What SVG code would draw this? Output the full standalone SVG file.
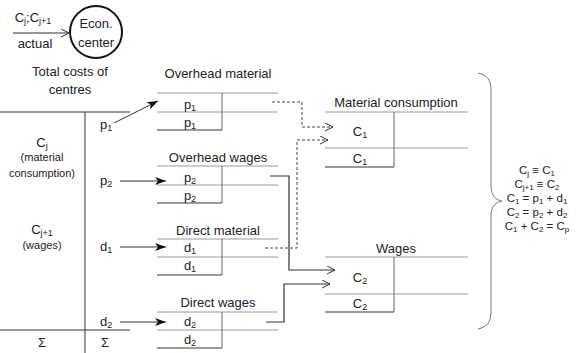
<svg xmlns="http://www.w3.org/2000/svg" width="583" height="353" viewBox="0 0 583 353">
<style>
text{font-family:"Liberation Sans",Arial,sans-serif;fill:#222;font-size:13px}
.sm{font-size:11px}
.eq{font-size:11.5px}
.c{text-anchor:middle}
.tl{stroke:#9a9a9a;stroke-width:1;fill:none}
.tb{stroke:#9a9a9a;stroke-width:2;fill:none}
.tv{stroke:#666;stroke-width:1;fill:none}
.k{stroke:#333;stroke-width:1;fill:none}
.dash{stroke:#444;stroke-width:1;fill:none;stroke-dasharray:3,2}
.sol{stroke:#333;stroke-width:1.2;fill:none}
</style>
<defs>
<marker id="open" markerWidth="10" markerHeight="10" refX="8" refY="4" orient="auto" markerUnits="userSpaceOnUse">
<path d="M0,0 L8,4 L0,8" fill="none" stroke="#333" stroke-width="1"/>
</marker>
<marker id="stealth" markerWidth="14" markerHeight="10" refX="11" refY="4" orient="auto" markerUnits="userSpaceOnUse">
<path d="M0,0 L11,4 L0,8 L3,4 z" fill="#111"/>
</marker>
</defs>

<g id="econ-center">
<circle cx="96" cy="32" r="26" fill="none" stroke="#111" stroke-width="2"/>
<text x="96" y="28" class="c">Econ.</text>
<text x="96" y="47" class="c">center</text>
</g>
<g id="input-label">
<text x="33" y="22" class="c">C<tspan font-size="9" dy="2">j</tspan><tspan dy="-2">;C</tspan><tspan font-size="9" dy="2">j+1</tspan></text>
<text x="35" y="48" class="c">actual</text>
</g>
<g id="total-costs">
<text x="70" y="76" class="c">Total costs of</text>
<text x="70" y="94" class="c">centres</text>
<path class="k" d="M0,112 H130 M85,112 V353 M0,330 H130"/>
<text x="42" y="147" class="c">C<tspan font-size="9" dy="2">j</tspan></text>
<text x="42" y="161" class="c sm">(material</text>
<text x="42" y="177" class="c sm">consumption)</text>
<text x="42" y="234" class="c">C<tspan font-size="9" dy="2">j+1</tspan></text>
<text x="42" y="249" class="c sm">(wages)</text>
<text x="100" y="129">p<tspan font-size="9" dy="2">1</tspan></text>
<text x="100" y="185">p<tspan font-size="9" dy="2">2</tspan></text>
<text x="100" y="251">d<tspan font-size="9" dy="2">1</tspan></text>
<text x="100" y="326">d<tspan font-size="9" dy="2">2</tspan></text>
<text x="42" y="347" class="c">Σ</text>
<text x="105" y="347" class="c">Σ</text>
</g>

<g id="overhead-material">
<text x="218" y="78" class="c">Overhead material</text>
<path class="tl" d="M157,93 H278 M157,112 H278"/>
<path class="tb" d="M157,130 H222"/>
<path class="tv" d="M222,93 V130"/>
<text x="190" y="109" class="c">p<tspan font-size="9" dy="2">1</tspan></text>
<text x="190" y="127" class="c">p<tspan font-size="9" dy="2">1</tspan></text>
</g>
<g id="overhead-wages">
<text x="218" y="162" class="c">Overhead wages</text>
<path class="tl" d="M157,166 H278 M157,185 H278"/>
<path class="tb" d="M157,203 H222"/>
<path class="tv" d="M222,166 V203"/>
<text x="190" y="182" class="c">p<tspan font-size="9" dy="2">2</tspan></text>
<text x="190" y="200" class="c">p<tspan font-size="9" dy="2">2</tspan></text>
</g>
<g id="direct-material">
<text x="218" y="235" class="c">Direct material</text>
<path class="tl" d="M157,239 H278 M157,257 H278"/>
<path class="tb" d="M157,275 H222"/>
<path class="tv" d="M222,239 V275"/>
<text x="190" y="252" class="c">d<tspan font-size="9" dy="2">1</tspan></text>
<text x="190" y="270" class="c">d<tspan font-size="9" dy="2">1</tspan></text>
</g>
<g id="direct-wages">
<text x="218" y="307" class="c">Direct wages</text>
<path class="tl" d="M157,312 H278 M157,330 H278"/>
<path class="tb" d="M157,348 H222"/>
<path class="tv" d="M222,312 V348"/>
<text x="190" y="326" class="c">d<tspan font-size="9" dy="2">2</tspan></text>
<text x="190" y="344" class="c">d<tspan font-size="9" dy="2">2</tspan></text>
</g>
<g id="material-consumption">
<text x="396" y="107" class="c">Material consumption</text>
<path class="tl" d="M325,112 H468 M325,148 H468"/>
<path class="tb" d="M325,167 H394"/>
<path class="tv" d="M394,112 V167"/>
<text x="360" y="136" class="c">C<tspan font-size="9" dy="2">1</tspan></text>
<text x="360" y="163" class="c">C<tspan font-size="9" dy="2">1</tspan></text>
</g>
<g id="wages">
<text x="396" y="253" class="c">Wages</text>
<path class="tl" d="M325,257 H468 M325,294 H468"/>
<path class="tb" d="M325,312 H394"/>
<path class="tv" d="M394,257 V312"/>
<text x="360" y="282" class="c">C<tspan font-size="9" dy="2">2</tspan></text>
<text x="360" y="308" class="c">C<tspan font-size="9" dy="2">2</tspan></text>
</g>
<g id="equations">
<path d="M478,73 C487,75 491,80 491,90 V186 C491,196 496,200 502,201 C496,202 491,206 491,216 V312 C491,322 487,327 478,329" fill="none" stroke="#777" stroke-width="1"/>
<text x="537" y="174" class="c eq">C<tspan font-size="8" dy="2">j</tspan><tspan dy="-2"> ≡ C</tspan><tspan font-size="8" dy="2">1</tspan></text>
<text x="537" y="188" class="c eq">C<tspan font-size="8" dy="2">j+1</tspan><tspan dy="-2"> ≡ C</tspan><tspan font-size="8" dy="2">2</tspan></text>
<text x="537" y="202" class="c eq">C<tspan font-size="8" dy="2">1</tspan><tspan dy="-2"> = p</tspan><tspan font-size="8" dy="2">1</tspan><tspan dy="-2"> + d</tspan><tspan font-size="8" dy="2">1</tspan></text>
<text x="537" y="216" class="c eq">C<tspan font-size="8" dy="2">2</tspan><tspan dy="-2"> = p</tspan><tspan font-size="8" dy="2">2</tspan><tspan dy="-2"> + d</tspan><tspan font-size="8" dy="2">2</tspan></text>
<text x="537" y="230" class="c eq">C<tspan font-size="8" dy="2">1</tspan><tspan dy="-2"> + C</tspan><tspan font-size="8" dy="2">2</tspan><tspan dy="-2"> = C</tspan><tspan font-size="8" dy="2">p</tspan></text>
</g>

<g id="connectors">
<line class="k" x1="13" y1="33" x2="69" y2="33" marker-end="url(#open)"/>
<line class="k" x1="114" y1="123" x2="158" y2="101" marker-end="url(#stealth)"/>
<line class="k" x1="120" y1="181" x2="166" y2="181" marker-end="url(#stealth)"/>
<line class="k" x1="120" y1="247" x2="166" y2="247" marker-end="url(#stealth)"/>
<line class="k" x1="120" y1="322" x2="166" y2="322" marker-end="url(#stealth)"/>
<path class="dash" d="M272,102 H302 V127 H333" marker-end="url(#open)"/>
<path class="dash" d="M265,248 H297 V140 H328" marker-end="url(#open)"/>
<path class="sol" d="M270,176 H289 V270 H335" marker-end="url(#open)"/>
<path class="sol" d="M266,322 H284 V284 H330" marker-end="url(#open)"/>
</g>
</svg>
